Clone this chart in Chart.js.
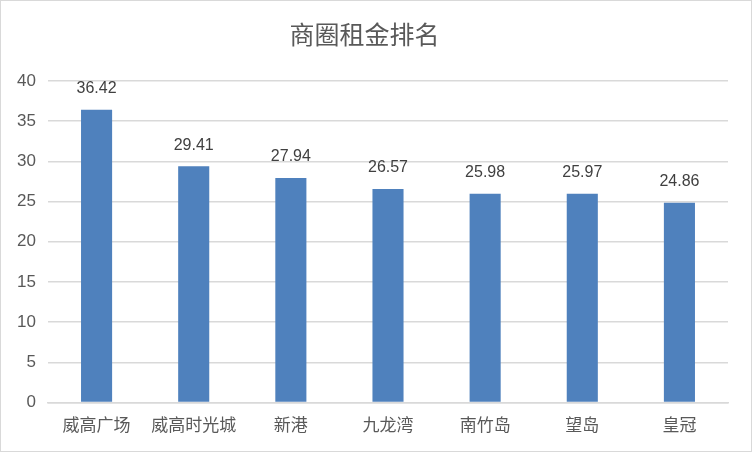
<!DOCTYPE html>
<html><head><meta charset="utf-8">
<script src="https://cdn.jsdelivr.net/npm/chart.js@4"></script>
<style>
html,body{margin:0;padding:0;background:#fff;}
#wrap{position:absolute;left:0;top:0;width:750px;height:450px;border:1px solid #d9d9d9;}
</style></head>
<body><div id="wrap"><canvas id="c" width="750" height="450"></canvas></div>
<script>
const categories = ["威高广场","威高时光城","新港","九龙湾","南竹岛","望岛","皇冠"];
const rentValues = [36.42, 29.41, 27.94, 26.57, 25.98, 25.97, 24.86];
const titleText = "商圈租金排名";
const FONT = '"Liberation Sans", "Noto Sans CJK SC", sans-serif';

const labelPlugin = {
  id: 'valueLabels',
  afterDatasetsDraw(chart) {
    const ctx = chart.ctx;
    const meta = chart.getDatasetMeta(0);
    ctx.save();
    ctx.font = '16px ' + FONT;
    ctx.fillStyle = '#404040';
    ctx.textAlign = 'center';
    ctx.textBaseline = 'middle';
    meta.data.forEach((bar, i) => {
      ctx.fillText(rentValues[i].toFixed(2), bar.x, bar.y - 21);
    });
    ctx.restore();
  }
};

new Chart(document.getElementById('c'), {
  type: 'bar',
  data: {
    labels: categories,
    datasets: [{
      data: rentValues,
      backgroundColor: '#4f81bd',
      borderWidth: 0,
      categoryPercentage: 1,
      barPercentage: 0.32
    }]
  },
  options: {
    responsive: false,
    animation: false,
    devicePixelRatio: 1,
    layout: { padding: { left: 0, right: 23, bottom: 0, top: 0 } },
    plugins: {
      legend: { display: false },
      tooltip: { enabled: false },
      title: {
        display: true,
        text: titleText,
        color: '#595959',
        font: { size: 25, family: FONT, weight: 'normal' },
        padding: { top: 21, bottom: 29 }
      }
    },
    scales: {
      x: {
        grid: { display: false, drawTicks: false },
        border: { display: true, color: '#d9d9d9', width: 1.5 },
        ticks: { color: '#595959', font: { size: 17, family: FONT }, padding: 14 }
      },
      y: {
        min: 0, max: 40,
        afterFit(s) { s.width = 47; },
        grid: { color: '#d9d9d9', lineWidth: 1.5, drawTicks: false },
        border: { display: false },
        ticks: { stepSize: 5, color: '#595959', font: { size: 17, family: FONT }, padding: 12 }
      }
    }
  },
  plugins: [labelPlugin]
});
</script></body></html>
